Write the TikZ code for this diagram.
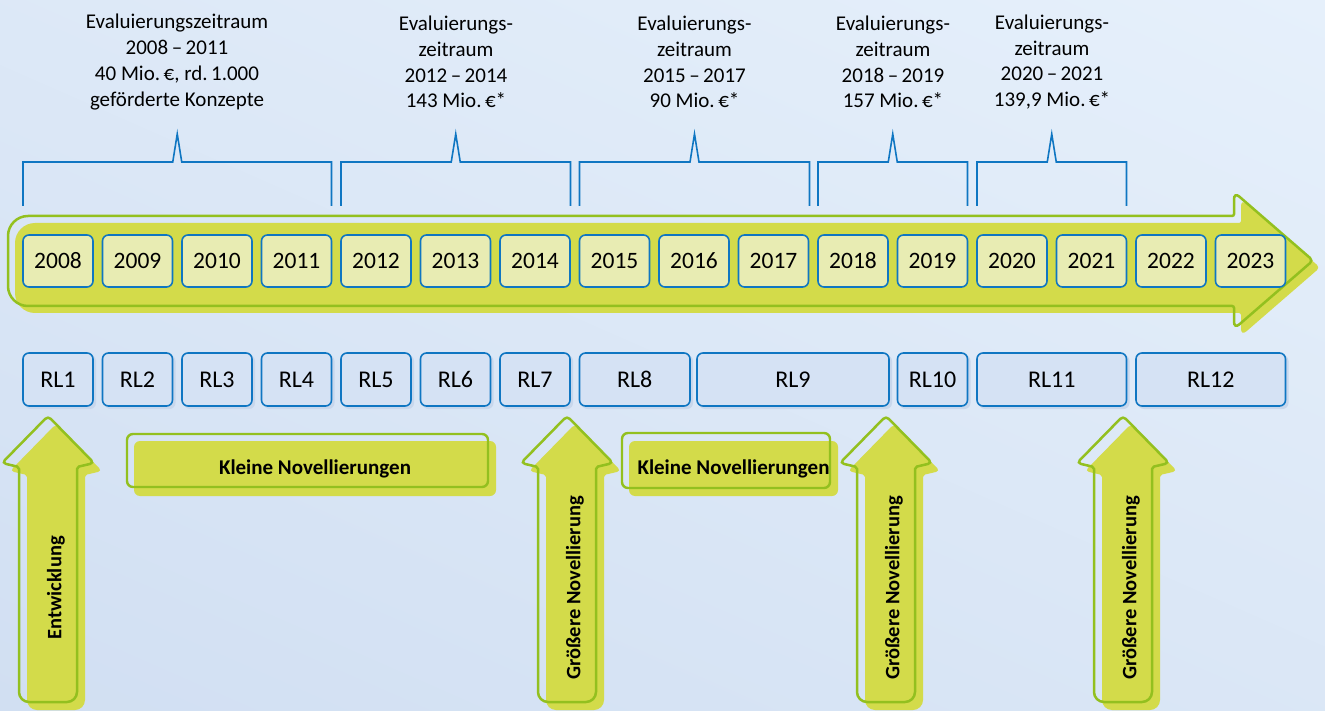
\documentclass[tikz,border=0pt]{standalone}
\usepackage{fontspec}
\setmainfont{Carlito}
\usetikzlibrary{shadings}
\definecolor{bgA}{HTML}{D1DFF2}
\definecolor{bgB}{HTML}{E6F0FB}
\definecolor{arrfill}{HTML}{D3DB4A}
\definecolor{arrline}{HTML}{93C01F}
\definecolor{yearfill}{HTML}{E8ECB3}
\definecolor{bblue}{HTML}{0F76C2}
\definecolor{rlfill}{HTML}{D5E2F4}
\definecolor{rlshadow}{HTML}{C8D7EC}
\newcommand\harrow[1]{%
\path[#1] (8,261) [rounded corners=20pt] -- (8,216) [rounded corners=2pt] -- (1234,216) [rounded corners=7pt] -- (1234,192) [rounded corners=4pt] -- (1313,260.5) [rounded corners=7pt] -- (1234,329) [rounded corners=2pt] -- (1234,306) [rounded corners=20pt] -- (8,306) -- cycle;}
\newcommand\varrow[1]{%
\path[#1] (0,702) [rounded corners=10pt] -- (-29,702) [rounded corners=2pt] -- (-29,467) [rounded corners=4pt] -- (-46,463) [rounded corners=4pt] -- (0,416) [rounded corners=4pt] -- (46,463) [rounded corners=2pt] -- (29,467) [rounded corners=10pt] -- (29,702) -- cycle;}
\newcommand\ebrace[2]{%
\draw[bracel] (#1,206) -- (#1,162) -- ({(#1+#2)/2-4.5},162) -- ({(#1+#2)/2},134) -- ({(#1+#2)/2+4.5},162) -- (#2,162) -- (#2,206);}
\begin{document}
\begin{tikzpicture}[x=1pt,y=-1pt,
  bracel/.style={draw=bblue, line width=1.6pt, line join=miter},
  toptext/.style={align=center, font=\fontsize{21}{25.7}\selectfont, text=black},
  yearbox/.style={draw=bblue, line width=1.6pt, fill=yearfill, rounded corners=6pt, minimum width=70pt, minimum height=52pt, inner sep=0pt, font=\fontsize{23.5}{26}\selectfont},
  rlbox/.style={draw=bblue, line width=1.6pt, fill=rlfill, rounded corners=6pt, minimum height=53pt, inner sep=0pt, font=\fontsize{24}{27}\selectfont},
  kfill/.style={fill=arrfill, rounded corners=6pt, inner sep=0pt},
  kline/.style={draw=arrline, line width=2.4pt, rounded corners=6pt},
  ktext/.style={font=\bfseries\fontsize{21}{24}\selectfont},
  vtext/.style={rotate=90, font=\bfseries\fontsize{20.5}{24}\selectfont}
]
\shade[lower left=bgA, lower right=bgA!55!bgB, upper left=bgA!45!bgB, upper right=bgB] (0,0) rectangle (1325,711);
\useasboundingbox (0,0) rectangle (1325,711);

% top texts
\node[toptext] (e1) at (177,62) {Evaluierungszeitraum\\2008\,–\,2011\\40 Mio.\,€, rd.\,1.000\\geförderte Konzepte};
\node[toptext] (e2) at (456,62) {Evaluierungs-\\zeitraum\\2012\,–\,2014\\143 Mio.\,€*};
\node[toptext] (e3) at (694.5,62) {Evaluierungs-\\zeitraum\\2015\,–\,2017\\90 Mio.\,€*};
\node[toptext] (e4) at (893,62) {Evaluierungs-\\zeitraum\\2018\,–\,2019\\157 Mio.\,€*};
\node[toptext] (e5) at (1052,62) {Evaluierungs-\\zeitraum\\2020\,–\,2021\\139,9 Mio.\,€*};

% braces
\ebrace{23}{331.5}
\ebrace{341}{570.5}
\ebrace{579.5}{809.5}
\ebrace{818}{967.5}
\ebrace{977}{1126.5}

% big arrow
\harrow{fill=arrfill, shift={(7,7)}}
\harrow{draw=arrline, line width=2.5pt}

% years
\foreach \y [count=\i from 0] in {2008,...,2023}{
  \node[yearbox] (y\y) at ({58+79.5*\i},261) {\y};
}

% RL boxes
\foreach \nm/\l/\r in {RL1/23/93, RL2/102.5/172.5, RL3/182/252, RL4/261.5/331.5, RL5/341/411, RL6/420.5/490.5, RL7/500/570, RL8/579.5/690, RL9/697/889, RL10/897.5/967.5, RL11/977/1126.5, RL12/1136/1285.5}{
  \fill[rlshadow, rounded corners=6pt] (\l+2,355) rectangle (\r+3,409);
  \node[rlbox, minimum width={\r-\l}] (\nm) at ({(\l+\r)/2},379.5) {\nm};
}

% Kleine Novellierungen
\node[kfill, minimum width=362pt, minimum height=55pt] (k1) at (315,468.5) {};
\draw[kline] (127,434) rectangle (488,487);
\node[ktext] (k1t) at (k1.center) {Kleine Novellierungen};
\node[kfill, minimum width=209pt, minimum height=55pt] (k2) at (733.5,468.5) {};
\draw[kline] (622,433) rectangle (830,488);
\node[ktext] (k2t) at (k2.center) {Kleine Novellierungen};

% vertical arrows
\foreach \cx in {48,567,886,1123}{
  \begin{scope}[xshift=\cx pt]
    \varrow{fill=arrfill, shift={(8,8)}}
    \varrow{draw=arrline, line width=2.5pt}
  \end{scope}
}
\node[vtext] (a1) at (56,588) {Entwicklung};
\node[vtext] (a2) at (575,588) {Größere Novellierung};
\node[vtext] (a3) at (894,588) {Größere Novellierung};
\node[vtext] (a4) at (1131,588) {Größere Novellierung};
\end{tikzpicture}
\end{document}
